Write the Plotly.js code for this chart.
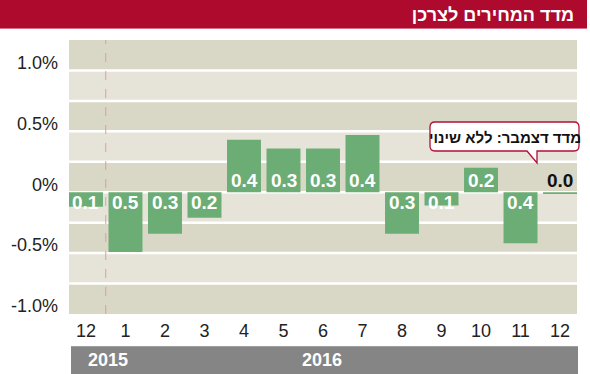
<!DOCTYPE html>
<html>
<head>
<meta charset="utf-8">
<script src="https://cdn.plot.ly/plotly-3.0.1.min.js"></script>
<style>
html,body{margin:0;padding:0;background:#fff;}
#chart{width:590px;height:374px;}
</style>
</head>
<body>
<div id="chart"></div>
<script>
// ---- data ----
const monthLabels = ['12','1','2','3','4','5','6','7','8','9','10','11','12'];
const values = [-0.12,-0.49,-0.34,-0.21,0.43,0.36,0.36,0.47,-0.34,-0.11,0.2,-0.42,-0.015];
const valueLabels = ['0.1','0.5','0.3','0.2','0.4','0.3','0.3','0.4','0.3','0.1','0.2','0.4','0.0'];
const yTickVals = [-1,-0.5,0,0.5,1];
const yTickText = ['-1.0%','-0.5%','0%','0.5%','1.0%'];
const years = ['2015','2016'];
const titleText = 'מדד המחירים לצרכן';
const calloutText = 'מדד דצמבר: ללא שינוי';

// ---- layout helpers ----
const W = 590, H = 374;
const M = {l:69, r:13, t:40, b:60};
const PW = W - M.l - M.r, PH = H - M.t - M.b;
const px = x => (x - M.l) / PW;          // pixel -> paper x
const py = y => (M.t + PH - y) / PH;     // pixel -> paper y

const idx = monthLabels.map((_, i) => i);
const yMin = -1, yMax = 1.25, step = 0.25;

const shapes = [];
// alternating bands
for (let k = 0, y = yMin; y < yMax - 1e-9; k++, y += step) {
  shapes.push({type:'rect', xref:'paper', yref:'y', x0:0, x1:1, y0:y, y1:y+step,
    fillcolor: (k % 2 === 0) ? '#d9d7c5' : '#e6e4d8', line:{width:0}, layer:'below'});
}
// white grid lines
for (let y = yMin + step; y < yMax - 1e-9; y += step) {
  shapes.push({type:'line', xref:'paper', yref:'y', x0:0, x1:1, y0:y, y1:y,
    line:{color:'#ffffff', width:2.5}, layer:'below'});
}
// year divider
shapes.push({type:'line', xref:'x', yref:'paper', x0:0.5, x1:0.5, y0:0, y1:1,
  line:{color:'#e89a9a', width:1, dash:'dash'}, layer:'below'});
// title bar
shapes.push({type:'rect', xref:'paper', yref:'paper', x0:px(0), x1:px(587), y0:py(29), y1:py(0),
  fillcolor:'#ad0a2d', line:{width:0}});
shapes.push({type:'line', xref:'paper', yref:'paper', x0:px(0), x1:px(587), y0:py(28.5), y1:py(28.5),
  line:{color:'#d9708a', width:1}});
// year band
shapes.push({type:'rect', xref:'paper', yref:'paper', x0:px(71), x1:px(578), y0:py(374), y1:py(346),
  fillcolor:'#858585', line:{width:0}});
shapes.push({type:'line', xref:'paper', yref:'paper', x0:px(71), x1:px(578), y0:py(346.5), y1:py(346.5),
  line:{color:'#a0a0a0', width:1}});
// callout bubble
const P = (x, y) => px(x).toFixed(5) + ',' + py(y).toFixed(5);
const bx0 = 430, bx1 = 579, by0 = 122, by1 = 151, r = 5;
const path = 'M' + P(bx0 + r, by0) + ' L' + P(bx1 - r, by0) + ' Q' + P(bx1, by0) + ' ' + P(bx1, by0 + r) +
  ' L' + P(bx1, by1 - r) + ' Q' + P(bx1, by1) + ' ' + P(bx1 - r, by1) +
  ' L' + P(537, by1) + ' L' + P(537, 163) + ' L' + P(527, by1) +
  ' L' + P(bx0 + r, by1) + ' Q' + P(bx0, by1) + ' ' + P(bx0, by1 - r) +
  ' L' + P(bx0, by0 + r) + ' Q' + P(bx0, by0) + ' ' + P(bx0 + r, by0) + ' Z';
shapes.push({type:'path', xref:'paper', yref:'paper', path:path,
  fillcolor:'#ffffff', line:{color:'#b0103a', width:1.3}});

const FONT = '"Liberation Sans", Arial, sans-serif';
const annotations = [];
values.forEach((v, i) => {
  const above = v > 0 || i === values.length - 1;
  annotations.push({x:i, y:0, xref:'x', yref:'y', text:valueLabels[i], showarrow:false,
    xanchor:'center', yanchor:'middle', yshift: above ? 12 : -10,
    font:{family:FONT, size:19, color: i === values.length - 1 ? '#111111' : '#ffffff', weight:'bold'}});
});
annotations.push({x:px(108), y:py(360), xref:'paper', yref:'paper', text:years[0], showarrow:false,
  xanchor:'center', yanchor:'middle', font:{family:FONT, size:18, color:'#ffffff', weight:'bold'}});
annotations.push({x:px(322), y:py(360), xref:'paper', yref:'paper', text:years[1], showarrow:false,
  xanchor:'center', yanchor:'middle', font:{family:FONT, size:18, color:'#ffffff', weight:'bold'}});
annotations.push({x:px(505), y:py(137), xref:'paper', yref:'paper', text:calloutText, showarrow:false,
  xanchor:'center', yanchor:'middle', font:{family:FONT, size:15, color:'#111111', weight:'bold'}});

const trace = {
  type:'bar', x:idx, y:values,
  marker:{color:'#6cad76', line:{width:0}},
  hoverinfo:'skip'
};

const layout = {
  width:W, height:H, margin:M,
  paper_bgcolor:'#ffffff', plot_bgcolor:'rgba(0,0,0,0)',
  showlegend:false, bargap:0.14,
  font:{family:FONT},
  title:{text:titleText, x:574/W, xanchor:'right', xref:'container', y:1 - 15/H, yref:'container', yanchor:'middle',
    font:{family:FONT, size:18, color:'#ffffff', weight:'bold'}},
  xaxis:{range:[-0.43, 12.43], tickvals:idx, ticktext:monthLabels, showgrid:false, zeroline:false,
    showline:false, ticks:'', tickfont:{size:18, color:'#222222'}, ticklabelstandoff:4, fixedrange:true},
  yaxis:{range:[yMin, yMax], tickvals:yTickVals, ticktext:yTickText, showgrid:false, zeroline:false,
    showline:false, ticks:'', tickfont:{size:18, color:'#222222'}, ticklabelshift:-8, ticklabelstandoff:10, fixedrange:true},
  shapes:shapes, annotations:annotations
};

Plotly.newPlot('chart', [trace], layout, {displayModeBar:false, staticPlot:true});
</script>
</body>
</html>
